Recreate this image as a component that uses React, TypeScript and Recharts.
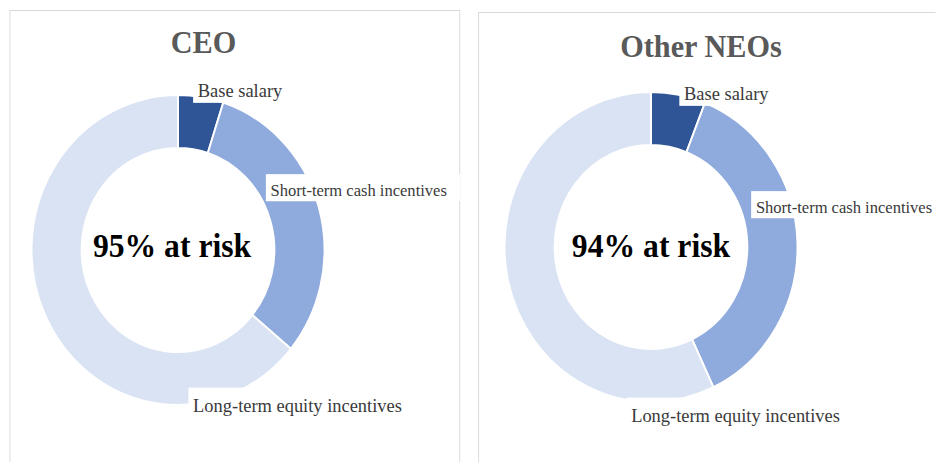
import React from "react";
import { PieChart, Pie, Cell } from "recharts";

const segments = ["Base salary", "Short-term cash incentives", "Long-term equity incentives"];
const ceoMix = [5, 31, 64];
const neoMix = [6, 37, 57];
const ceoAtRisk = 95;
const neoAtRisk = 94;
const titles = ["CEO", "Other NEOs"];

const COLORS = ["#2F5597", "#8FAADC", "#DAE3F3"];
const SERIF = '"Liberation Serif", "Times New Roman", serif';
// the source picture is squeezed a bit horizontally, so draw wider and scale back
const SX = 0.945;
const W = 936 / SX;
const H = 462;

// where each label text starts (x) and sits (baseline), relative to donut centre
const ceoLabelAt = [[21, -153], [98, -54], [16, 162]];
const neoLabelAt = [[35, -147], [111, -34], [-21, 175]];
const labelSize = [19.5, 17.5, 19.5];

const ceoData = segments.map((name, i) => ({ name, value: ceoMix[i] }));
const neoData = segments.map((name, i) => ({ name, value: neoMix[i] }));

// slice labels with a white box behind them; the first slice also carries the centre text
const makeLabel = (center: number[], pos: number[][], mid: string, mdx: number, mdy: number) => (p: any) => {
  const i = p.index;
  const fs = labelSize[i];
  const cx = typeof p.cx === "number" ? p.cx : center[0];
  const cy = typeof p.cy === "number" ? p.cy : center[1];
  const x = cx + pos[i][0];
  const y = cy + pos[i][1];
  const name = segments[i];
  const w = name.length * fs * 0.43;
  return (
    <g key={`lbl-${i}`}>
      <rect x={x - 5} y={y - fs * 1.25} width={w + 10} height={fs * 1.55} fill="#fff" />
      <text x={x} y={y} fontSize={fs} fill="#3A3A3A" fontFamily={SERIF}>
        {name}
      </text>
      {i === 0 && (
        <text
          x={cx + mdx}
          y={cy + mdy}
          textAnchor="middle"
          fontSize={33.5}
          fontWeight="bold"
          fill="#000"
          fontFamily={SERIF}
        >
          {mid}
        </text>
      )}
    </g>
  );
};

const panel = (left: number, top: number, width: number): React.CSSProperties => ({
  position: "absolute",
  left,
  top,
  width,
  height: 480,
  border: "1px solid #D9D9D9",
  boxSizing: "border-box",
});

const title = (cx: number, top: number): React.CSSProperties => ({
  position: "absolute",
  left: cx - 150,
  top,
  width: 300,
  textAlign: "center",
  fontFamily: SERIF,
  fontSize: 32,
  lineHeight: "32px",
  fontWeight: "bold",
  color: "#595959",
});

export default function App() {
  const ceoC = [178 / SX, 250];
  const neoC = [651 / SX, 247];
  return (
    <div
      style={{
        position: "absolute",
        left: 0,
        top: 0,
        width: W,
        height: H,
        overflow: "hidden",
        background: "#fff",
        transform: `scaleX(${SX})`,
        transformOrigin: "0 0",
      }}
    >
      <div style={panel(9 / SX, 10, 451 / SX)} />
      <div style={panel(478 / SX, 12, 520)} />
      <div style={title(203.5 / SX, 26)}>{titles[0]}</div>
      <div style={title(701 / SX, 30)}>{titles[1]}</div>

      <div style={{ position: "absolute", left: 0, top: 0 }}>
        <PieChart width={W} height={H} margin={{ top: 0, right: 0, bottom: 0, left: 0 }}>
          <Pie
            data={ceoData}
            dataKey="value"
            nameKey="name"
            cx={ceoC[0]}
            cy={ceoC[1]}
            innerRadius={102}
            outerRadius={155}
            startAngle={90}
            endAngle={-270}
            stroke="#fff"
            strokeWidth={2}
            labelLine={false}
            label={makeLabel(ceoC, ceoLabelAt, `${ceoAtRisk}% at risk`, -6.3, 7)}
            isAnimationActive={false}
          >
            {ceoData.map((d, i) => (
              <Cell key={d.name} fill={COLORS[i]} />
            ))}
          </Pie>
          <Pie
            data={neoData}
            dataKey="value"
            nameKey="name"
            cx={neoC[0]}
            cy={neoC[1]}
            innerRadius={102}
            outerRadius={155}
            startAngle={90}
            endAngle={-270}
            stroke="#fff"
            strokeWidth={2}
            labelLine={false}
            label={makeLabel(neoC, neoLabelAt, `${neoAtRisk}% at risk`, 0, 10)}
            isAnimationActive={false}
          >
            {neoData.map((d, i) => (
              <Cell key={d.name} fill={COLORS[i]} />
            ))}
          </Pie>
        </PieChart>
      </div>
    </div>
  );
}
